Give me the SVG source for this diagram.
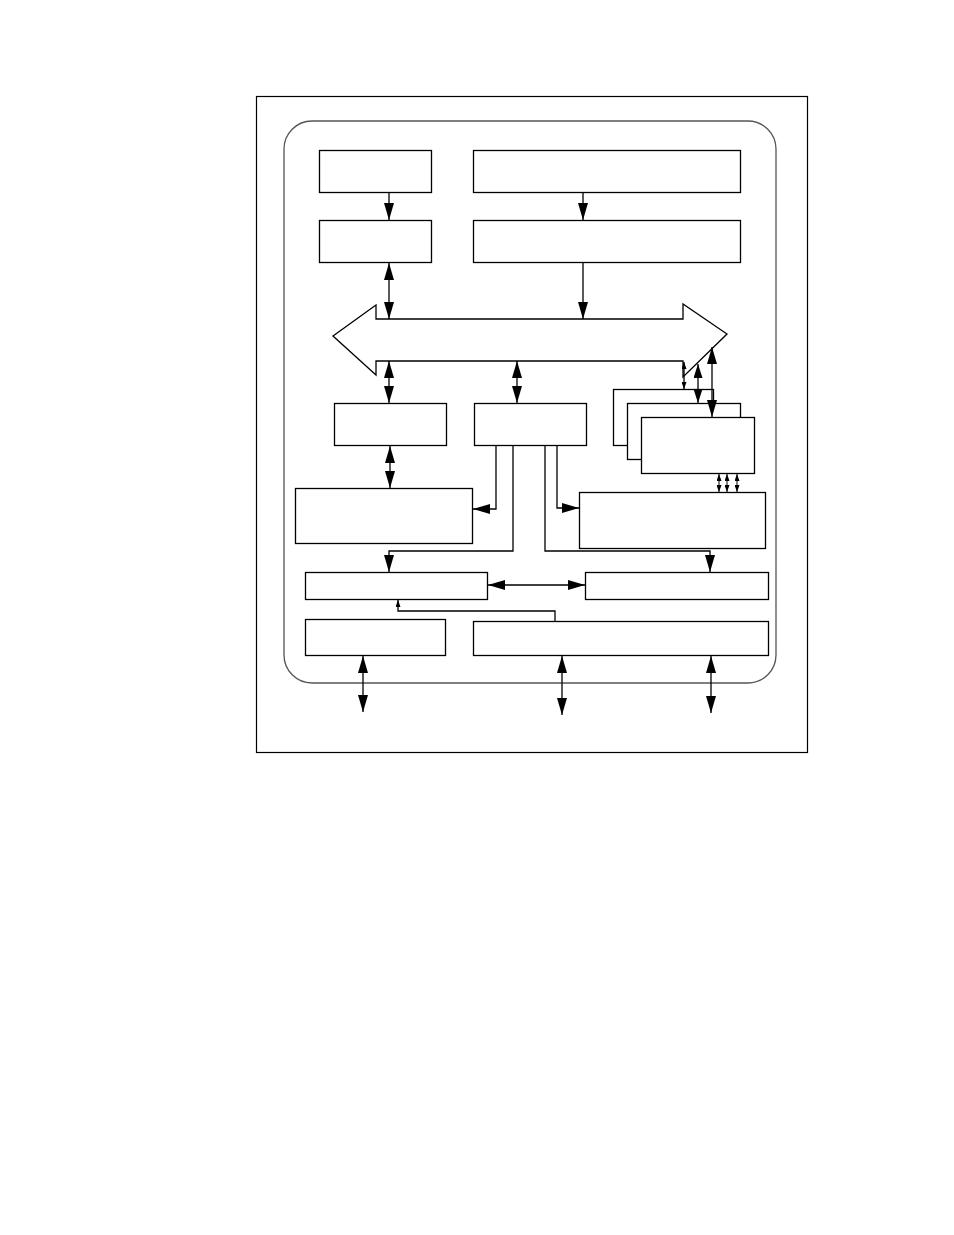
<svg xmlns="http://www.w3.org/2000/svg" width="954" height="1235" viewBox="0 0 954 1235">
<style>
.b{fill:#fff;stroke:#000;stroke-width:1.3}
.c{fill:none;stroke:#000;stroke-width:1.3}
.c2{fill:none;stroke:#000;stroke-width:1}
</style>
<defs>
<marker id="a" markerUnits="userSpaceOnUse" markerWidth="17" markerHeight="10" refX="17" refY="5" orient="auto-start-reverse"><path d="M0,0L17,5L0,10z"/></marker>
<marker id="m" markerUnits="userSpaceOnUse" markerWidth="14" markerHeight="9" refX="14" refY="4.5" orient="auto-start-reverse"><path d="M0,0L14,4.5L0,9z"/></marker>
<marker id="s" markerUnits="userSpaceOnUse" markerWidth="7" markerHeight="5" refX="7" refY="2.5" orient="auto-start-reverse"><path d="M0,0L7,2.5L0,5z"/></marker>
</defs>
<rect width="954" height="1235" fill="#fff"/>
<rect x="256.5" y="96.5" width="551" height="656" fill="none" stroke="#000" stroke-width="1.2"/>
<rect x="284" y="121" width="492" height="562" rx="28" ry="28" fill="none" stroke="#555" stroke-width="1.3"/>
<g id="bus"><path class="b" d="M333,336L376,305L376,319L683,319L683,304L727,334L683,377L683,361L376,361L376,375z"/></g>
<g id="nA"><rect class="b" x="319.5" y="150.5" width="112" height="42"/></g>
<g id="nB"><rect class="b" x="473.5" y="150.5" width="267" height="42"/></g>
<g id="nC"><rect class="b" x="319.5" y="220.5" width="112" height="42"/></g>
<g id="nD"><rect class="b" x="473.5" y="220.5" width="267" height="42"/></g>
<g id="nE"><rect class="b" x="334.5" y="403.5" width="112" height="42"/></g>
<g id="nG"><rect class="b" x="474.5" y="403.5" width="112" height="42"/></g>
<g id="nStack">
<rect class="b" x="613.5" y="389.5" width="100" height="56"/>
<rect class="b" x="627.5" y="403.5" width="113" height="56"/>
<rect class="b" x="641.5" y="417.5" width="113" height="56"/>
</g>
<g id="nH"><rect class="b" x="295.5" y="488.5" width="177" height="55"/></g>
<g id="nF"><rect class="b" x="579.5" y="492.5" width="186" height="56"/></g>
<g id="nI"><rect class="b" x="305.5" y="572.5" width="182" height="27"/></g>
<g id="nJ"><rect class="b" x="585.5" y="572.5" width="183" height="27"/></g>
<g id="nK"><rect class="b" x="305.5" y="619.5" width="140" height="36"/></g>
<g id="nL"><rect class="b" x="473.5" y="621.5" width="295" height="34"/></g>
<g id="connectors">
<line class="c" x1="389" y1="193" x2="389" y2="220" marker-end="url(#a)"/>
<line class="c" x1="583" y1="193" x2="583" y2="220" marker-end="url(#a)"/>
<line class="c" x1="389" y1="263" x2="389" y2="319" marker-start="url(#a)" marker-end="url(#a)"/>
<line class="c" x1="583" y1="263" x2="583" y2="319" marker-end="url(#a)"/>
<line class="c" x1="389" y1="361" x2="389" y2="403" marker-start="url(#a)" marker-end="url(#a)"/>
<line class="c" x1="517" y1="361" x2="517" y2="403" marker-start="url(#a)" marker-end="url(#a)"/>
<line class="c" x1="684" y1="362" x2="684" y2="389" marker-start="url(#s)" marker-end="url(#s)"/>
<line class="c" x1="698" y1="364" x2="698" y2="403" marker-start="url(#m)" marker-end="url(#m)"/>
<line class="c" x1="712" y1="347" x2="712" y2="417" marker-start="url(#a)" marker-end="url(#a)"/>
<line class="c" x1="390" y1="446" x2="390" y2="488" marker-start="url(#a)" marker-end="url(#a)"/>
<polyline class="c" points="496,446 496,509 473,509" marker-end="url(#a)"/>
<polyline class="c" points="513,446 513,551 389,551 389,572" marker-end="url(#a)"/>
<polyline class="c" points="545,446 545,551 710,551 710,572" marker-end="url(#a)"/>
<polyline class="c" points="557,446 557,508 579,508" marker-end="url(#a)"/>
<line class="c2" x1="719" y1="474" x2="719" y2="492" marker-start="url(#s)" marker-end="url(#s)"/>
<line class="c2" x1="727" y1="474" x2="727" y2="492" marker-start="url(#s)" marker-end="url(#s)"/>
<line class="c2" x1="737" y1="474" x2="737" y2="492" marker-start="url(#s)" marker-end="url(#s)"/>
<line class="c" x1="488" y1="585" x2="585" y2="585" marker-start="url(#a)" marker-end="url(#a)"/>
<polyline class="c" points="555,621 555,611 398,611 398,600" marker-end="url(#s)"/>
<line class="c" x1="363" y1="656" x2="363" y2="712" marker-start="url(#a)" marker-end="url(#a)"/>
<line class="c" x1="562" y1="656" x2="562" y2="715" marker-start="url(#a)" marker-end="url(#a)"/>
<line class="c" x1="711" y1="656" x2="711" y2="713" marker-start="url(#a)" marker-end="url(#a)"/>
</g>
</svg>
